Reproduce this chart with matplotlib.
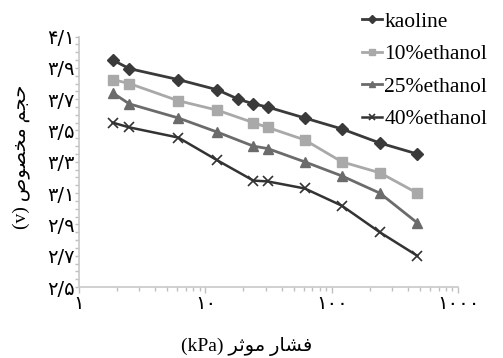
import matplotlib
matplotlib.use('Agg')
import matplotlib.pyplot as plt
import matplotlib.transforms as mtransforms
from matplotlib.ticker import LogLocator, MultipleLocator, NullFormatter

# effective pressure (kPa) and specific volume
p_kaoline = [1.85, 2.5, 6.1, 12.4, 18.2, 24, 31, 61, 120, 240, 475]
v_kaoline = [3.95, 3.895, 3.825, 3.76, 3.70, 3.67, 3.65, 3.58, 3.51, 3.42, 3.35]

p_eth = [1.85, 2.5, 6.1, 12.4, 24, 31, 61, 120, 240, 475]
v_10 = [3.825, 3.80, 3.69, 3.63, 3.55, 3.52, 3.44, 3.30, 3.23, 3.10]
v_25 = [3.74, 3.67, 3.58, 3.49, 3.40, 3.385, 3.30, 3.21, 3.10, 2.91]
v_40 = [3.55, 3.52, 3.455, 3.31, 3.18, 3.175, 3.13, 3.02, 2.85, 2.70]

labels = ['kaoline', '10%ethanol', '25%ethanol', '40%ethanol']

yticks = [2.5, 2.7, 2.9, 3.1, 3.3, 3.5, 3.7, 3.9, 4.1]
ytick_labels = ['۲/۵', '۲/۷', '۲/۹', '۳/۱', '۳/۳', '۳/۵', '۳/۷', '۳/۹', '۴/۱']
xticks = [1, 10, 100, 1000]
xtick_labels = ['۱', '۱۰', '۱۰۰', '۱۰۰۰']

# Persian labels pre-shaped (presentation forms, visual order)
xlabel = '(kPa) ' + '\uFEAE\uFE9B\uFEEE\uFEE3' + ' ' + '\uFEAD\uFE8E\uFEB8\uFED3'
ylabel = '(v) ' + '\uFEB9\uFEEE\uFEBC\uFEA8\uFEE3' + ' ' + '\uFEE2\uFEA0\uFEA3'

fam = ['Liberation Serif', 'DejaVu Sans']
plt.rcParams['font.family'] = fam

fig = plt.figure(figsize=(5.03, 3.58), dpi=100)
ax = fig.add_axes([0.157, 0.198, 0.754, 0.70])

ax.plot(p_kaoline, v_kaoline, color='#3a3a3a', lw=2, marker='D', ms=6, label=labels[0])
ax.plot(p_eth, v_10, color='#a9a9a9', lw=2, marker='s', ms=6.5, label=labels[1])
ax.plot(p_eth, v_25, color='#6b6b6b', lw=2, marker='^', ms=7, label=labels[2])
ax.plot(p_eth, v_40, color='#333333', lw=1.8, marker='x', ms=7, mew=1.2, label=labels[3])

ax.set_xscale('log')
ax.set_xlim(1, 1000)
ax.set_ylim(2.5, 4.1)

ax.set_xticks(xticks)
ax.set_xticklabels(xtick_labels, fontsize=14, family=['DejaVu Sans'])
ax.xaxis.set_minor_locator(LogLocator(base=10, subs=range(2, 10)))
ax.xaxis.set_minor_formatter(NullFormatter())
ax.set_yticks(yticks)
ax.set_yticklabels(ytick_labels, fontsize=14, family=['DejaVu Sans'])
ax.yaxis.set_minor_locator(MultipleLocator(0.05))

# shift x tick labels like in the original
shifts = [0, -42, -20, -26]
for lab, dx in zip(ax.get_xticklabels(), shifts):
    lab.set_transform(lab.get_transform() + mtransforms.ScaledTranslation(dx / 100, 0, fig.dpi_scale_trans))

for s in ['top', 'right']:
    ax.spines[s].set_visible(False)
for s in ['left', 'bottom']:
    ax.spines[s].set_color('#c8c8c8')
    ax.spines[s].set_linewidth(1.2)
ax.tick_params(which='both', colors='#c0c0c0', labelcolor='black', length=3, width=1)
ax.tick_params(axis='x', which='major', length=4, pad=1)
ax.tick_params(axis='y', which='major', pad=0)

ax.set_xlabel(xlabel, fontsize=14, family=['Liberation Serif', 'DejaVu Sans'])
ax.xaxis.set_label_coords(0.443, -0.2)
ax.set_ylabel(ylabel, fontsize=14, family=['Liberation Serif', 'DejaVu Sans'])
ax.yaxis.set_label_coords(-0.13, 0.52)

fig.legend(loc='upper left', bbox_to_anchor=(0.712, 0.98), frameon=False, fontsize=15.5,
           handlelength=0.9, handletextpad=0.12, labelspacing=0.58, borderpad=0.2,
           borderaxespad=0, markerscale=0.7)

fig.savefig('out.png', dpi=100)
